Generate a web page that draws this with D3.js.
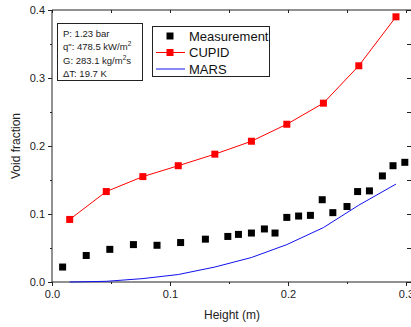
<!DOCTYPE html>
<html>
<head>
<meta charset="utf-8">
<script src="https://cdn.jsdelivr.net/npm/d3@7"></script>
<style>
  body { margin: 0; background: #fff; }
  svg { font-family: "Liberation Sans", Arial, sans-serif; }
  .axis path, .axis line { stroke: #222; }
  .axis text { fill: #222; font-size: 11px; }
</style>
</head>
<body>
<div id="chart"></div>
<script>
// measured points
var measX = [0.009, 0.029, 0.049, 0.069, 0.089, 0.109, 0.130, 0.149, 0.158, 0.169, 0.180, 0.189,
             0.199, 0.209, 0.219, 0.229, 0.238, 0.250, 0.259, 0.269, 0.280, 0.289, 0.299];
var measY = [0.022, 0.039, 0.048, 0.055, 0.054, 0.058, 0.063, 0.067, 0.070, 0.072, 0.078, 0.072,
             0.095, 0.097, 0.098, 0.121, 0.102, 0.111, 0.133, 0.134, 0.156, 0.171, 0.176];
// code predictions
var calcX  = [0.015, 0.046, 0.077, 0.107, 0.138, 0.169, 0.199, 0.230, 0.260, 0.2915];
var cupidY = [0.092, 0.133, 0.155, 0.171, 0.188, 0.207, 0.232, 0.263, 0.318, 0.390];
var marsY  = [0.000, 0.001, 0.005, 0.011, 0.022, 0.036, 0.055, 0.080, 0.113, 0.144];

var xTicks = [0, 0.1, 0.2, 0.3];
var yTicks = [0, 0.1, 0.2, 0.3, 0.4];
var infoLines = ["P: 1.23 bar", "q\": 478.5 kW/m|2", "G: 283.1 kg/m|2|s", "\u0394T: 19.7 K"];

var w = 411, h = 327;
var mLeft = 52, mTop = 10, mBottom = 282, mRight = 412;

var x = d3.scaleLinear().domain([0, 0.3]).range([mLeft, 406]);
var y = d3.scaleLinear().domain([0, 0.4]).range([mBottom, mTop]);

var svg = d3.select('#chart').append('svg')
    .attr('width', w).attr('height', h);

// minor ticks
var xMinor = [0.05, 0.15, 0.25];
var yMinor = [0.05, 0.15, 0.25, 0.35];

svg.append('g').attr('class', 'axis')
    .attr('transform', 'translate(0,' + mBottom + ')')
    .call(d3.axisBottom(x).tickValues(xTicks).tickFormat(d3.format('.1f')).tickSize(4).tickPadding(4))
    .call(g => g.select('.domain').attr('d', 'M' + mLeft + ',0H' + mRight));
svg.append('g').attr('class', 'axis')
    .attr('transform', 'translate(0,' + mBottom + ')')
    .call(d3.axisBottom(x).tickValues(xMinor).tickFormat('').tickSize(2))
    .call(g => g.select('.domain').remove());

svg.append('g').attr('class', 'axis')
    .attr('transform', 'translate(' + mLeft + ',0)')
    .call(d3.axisLeft(y).tickValues(yTicks).tickFormat(d3.format('.1f')).tickSize(4).tickPadding(3))
    .call(g => g.select('.domain').attr('d', 'M0,' + mTop + 'V' + mBottom));
svg.append('g').attr('class', 'axis')
    .attr('transform', 'translate(' + mLeft + ',0)')
    .call(d3.axisLeft(y).tickValues(yMinor).tickFormat('').tickSize(2))
    .call(g => g.select('.domain').remove());

// top & right, ticks inward
svg.append('g').attr('class', 'axis')
    .attr('transform', 'translate(0,' + mTop + ')')
    .call(d3.axisBottom(x).tickValues(xTicks.concat(xMinor)).tickFormat('').tickSizeInner(3).tickSizeOuter(0))
    .call(g => g.select('.domain').attr('d', 'M' + mLeft + ',0H' + mRight));
svg.append('g').attr('class', 'axis')
    .attr('transform', 'translate(' + mRight + ',0)')
    .call(d3.axisRight(y).tickValues(yTicks.concat(yMinor)).tickFormat('').tickSizeInner(-5).tickSizeOuter(0))
    .call(g => g.select('.domain').attr('d', 'M0,' + mTop + 'V' + mBottom));

// axis titles
svg.append('text').attr('x', 232).attr('y', 319).attr('text-anchor', 'middle')
    .style('font-size', '12px').style('fill', '#222').text('Height (m)');
svg.append('text').attr('transform', 'translate(20,146) rotate(-90)').attr('text-anchor', 'middle')
    .style('font-size', '12px').style('fill', '#222').text('Void fraction');

var line = d3.line().x(d => x(d[0])).y(d => y(d[1]));

// MARS
svg.append('path').datum(d3.zip(calcX, marsY))
    .attr('d', line).attr('fill', 'none').attr('stroke', '#1010ee').attr('stroke-width', 1);

// CUPID
svg.append('path').datum(d3.zip(calcX, cupidY))
    .attr('d', line).attr('fill', 'none').attr('stroke', '#ff0000').attr('stroke-width', 1);
svg.selectAll('.cupid').data(d3.zip(calcX, cupidY)).enter().append('rect')
    .attr('class', 'cupid')
    .attr('x', d => x(d[0]) - 3.5).attr('y', d => y(d[1]) - 3.5)
    .attr('width', 7).attr('height', 7).attr('fill', '#ff0000');

// measurement
svg.selectAll('.meas').data(d3.zip(measX, measY)).enter().append('rect')
    .attr('class', 'meas')
    .attr('x', d => x(d[0]) - 3.5).attr('y', d => y(d[1]) - 3.5)
    .attr('width', 7).attr('height', 7).attr('fill', '#000');

// info box
svg.append('rect').attr('x', 57.5).attr('y', 23.5).attr('width', 85).attr('height', 57)
    .attr('fill', '#fff').attr('stroke', '#222');
infoLines.forEach(function (s, i) {
    var t = svg.append('text').attr('x', 63).attr('y', 37 + i * 13.3)
        .style('font-size', '9.5px').style('fill', '#222');
    s.split('|').forEach(function (part, j) {
        var sp = t.append('tspan').text(part);
        if (j % 2 === 1) sp.attr('dy', -4).style('font-size', '6.5px');
        else if (j > 0) sp.attr('dy', 4);
    });
});

// legend
svg.append('rect').attr('x', 152.5).attr('y', 26.5).attr('width', 117).attr('height', 50)
    .attr('fill', '#fff').attr('stroke', '#222');
var legend = [
    { name: 'Measurement', color: '#000', line: false },
    { name: 'CUPID', color: '#ff0000', line: true, box: true },
    { name: 'MARS', color: '#1010ee', line: true }
];
legend.forEach(function (d, i) {
    var cy = 36 + i * 16.5;
    if (d.line) svg.append('line').attr('x1', 156).attr('x2', 185).attr('y1', cy).attr('y2', cy)
        .attr('stroke', d.color).attr('stroke-width', 1);
    if (!d.line || d.box) svg.append('rect').attr('x', 166.5).attr('y', cy - 3.5)
        .attr('width', 7).attr('height', 7).attr('fill', d.color);
    svg.append('text').attr('x', 189).attr('y', cy + 4.5).style('font-size', '13px')
        .style('fill', '#111').text(d.name);
});
</script>
</body>
</html>
